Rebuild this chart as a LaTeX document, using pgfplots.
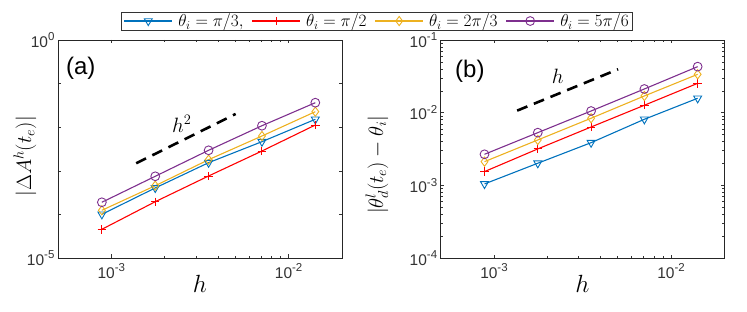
\documentclass[border=0pt]{standalone}
\usepackage{fontspec}
\setmainfont{Liberation Sans}
\usepackage{pgfplots}
\pgfplotsset{compat=1.18}
\definecolor{mblue}{rgb}{0,0.447,0.741}
\definecolor{mred}{rgb}{1,0,0}
\definecolor{myel}{rgb}{0.929,0.694,0.125}
\definecolor{mpur}{rgb}{0.494,0.184,0.556}
\newcommand\tp[1]{10\raisebox{0.42em}{\fontsize{11.5}{12}\selectfont #1}}
\pgfplotsset{
  every axis/.append style={
    scale only axis,
    width=284pt, height=218pt,
    xmin=5e-4, xmax=2e-2,
    xtick={1e-3,1e-2},
    xticklabels={\tp{-3},\tp{-2}},
    tick align=inside,
    major tick length=3.5pt, minor tick length=2pt,
    every tick/.style={black!80, line width=0.5pt},
    axis line style={black!85, line width=0.7pt},
    tick label style={font=\fontsize{15.5}{17}\selectfont, black!80},
    xticklabel style={yshift=-2pt},
    xlabel={$h$},
    xlabel style={font=\fontsize{23}{25}\selectfont, at={(axis description cs:0.5,-0.12)}, anchor=center},
    ylabel style={font=\fontsize{20.5}{22}\selectfont},
  },
  every axis plot/.append style={line width=1.1pt},
}
\begin{document}
\begin{tikzpicture}
\path[use as bounding box] (0,0) rectangle (747pt,312pt);
\begin{loglogaxis}[
  at={(58pt,54pt)}, anchor=south west,
  ymin=1e-5, ymax=1,
  ytick={1e-5,1e-4,1e-3,1e-2,1e-1,1},
  yticklabels={\tp{-5},,,,,\tp{0}},
  yminorticks=false,
  ylabel={$|\Delta A^h(t_e)|$},
  ylabel style={at={(axis description cs:-0.116,0.466)}, anchor=center},
  legend columns=4,
  legend style={at={(axis description cs:1.124,1.087)}, anchor=center,
    font=\fontsize{18.5}{20}\selectfont, draw=black!80, line width=0.6pt,
    inner ysep=0pt, inner xsep=2pt,
    /tikz/every odd column/.append style={column sep=3.5pt},
    /tikz/every even column/.append style={column sep=6pt}},
  legend image code/.code={%
    \draw[mark repeat=2,mark phase=2] plot coordinates {(0pt,0pt) (24pt,0pt) (48pt,0pt)};},
]
\addplot[mblue, mark=triangle, mark size=4.6pt, mark options={solid, rotate=180, line width=0.9pt}] coordinates {
(8.84e-4,1.005e-4) (1.768e-3,4.04e-4) (3.536e-3,1.535e-3) (7.071e-3,4.656e-3) (1.4142e-2,1.517e-2)};
\addlegendentry{$\theta_i=\pi/3,$}
\addplot[mred, mark=+, mark size=4.2pt, mark options={solid, line width=0.9pt}] coordinates {
(8.84e-4,4.55e-5) (1.768e-3,1.954e-4) (3.536e-3,7.60e-4) (7.071e-3,2.844e-3) (1.4142e-2,1.122e-2)};
\addlegendentry{$\theta_i=\pi/2$}
\addplot[myel, mark=diamond, mark size=4.6pt, mark options={solid, line width=0.9pt}] coordinates {
(8.84e-4,1.242e-4) (1.768e-3,4.55e-4) (3.536e-3,1.799e-3) (7.071e-3,6.28e-3) (1.4142e-2,2.270e-2)};
\addlegendentry{$\theta_i=2\pi/3$}
\addplot[mpur, mark=o, mark size=4.4pt, mark options={solid, line width=0.9pt}] coordinates {
(8.84e-4,1.897e-4) (1.768e-3,7.48e-4) (3.536e-3,2.951e-3) (7.071e-3,1.081e-2) (1.4142e-2,3.648e-2)};
\addlegendentry{$\theta_i=5\pi/6$}
\addplot[black, line width=2.6pt, dash pattern=on 11pt off 7pt, forget plot] coordinates {
(1.380e-3,1.486e-3) (5.023e-3,2.009e-2)};
\node[font=\fontsize{22}{24}\selectfont] at (rel axis cs:0.436,0.615) {$h^2$};
\node[font=\fontsize{24}{26}\selectfont] at (rel axis cs:0.080,0.870) {(a)};
\end{loglogaxis}
\begin{loglogaxis}[
  at={(440.7pt,54pt)}, anchor=south west, width=283.6pt,
  ymin=1e-4, ymax=1e-1,
  ytick={1e-4,1e-3,1e-2,1e-1},
  yticklabels={\tp{-4},\tp{-3},\tp{-2},\tp{-1}},
  ylabel={$|\theta_d^l(t_e)-\theta_i|$},
  ylabel style={at={(axis description cs:-0.225,0.427)}, anchor=center},
]
\addplot[mblue, mark=triangle, mark size=4.6pt, mark options={solid, rotate=180, line width=0.9pt}] coordinates {
(8.84e-4,1.045e-3) (1.768e-3,2.014e-3) (3.536e-3,3.864e-3) (7.071e-3,8.11e-3) (1.4142e-2,1.578e-2)};
\addplot[mred, mark=+, mark size=4.2pt, mark options={solid, line width=0.9pt}] coordinates {
(8.84e-4,1.545e-3) (1.768e-3,3.17e-3) (3.536e-3,6.35e-3) (7.071e-3,1.265e-2) (1.4142e-2,2.535e-2)};
\addplot[myel, mark=diamond, mark size=4.6pt, mark options={solid, line width=0.9pt}] coordinates {
(8.84e-4,2.118e-3) (1.768e-3,4.21e-3) (3.536e-3,8.38e-3) (7.071e-3,1.698e-2) (1.4142e-2,3.37e-2)};
\addplot[mpur, mark=o, mark size=4.4pt, mark options={solid, line width=0.9pt}] coordinates {
(8.84e-4,2.673e-3) (1.768e-3,5.31e-3) (3.536e-3,1.054e-2) (7.071e-3,2.118e-2) (1.4142e-2,4.30e-2)};
\addplot[black, line width=2.6pt, dash pattern=on 11pt off 7pt] coordinates {
(1.352e-3,1.067e-2) (5.023e-3,3.954e-2)};
\node[font=\fontsize{22}{24}\selectfont] at (rel axis cs:0.413,0.832) {$h$};
\node[font=\fontsize{24}{26}\selectfont] at (rel axis cs:0.103,0.855) {(b)};
\end{loglogaxis}
\end{tikzpicture}
\end{document}
